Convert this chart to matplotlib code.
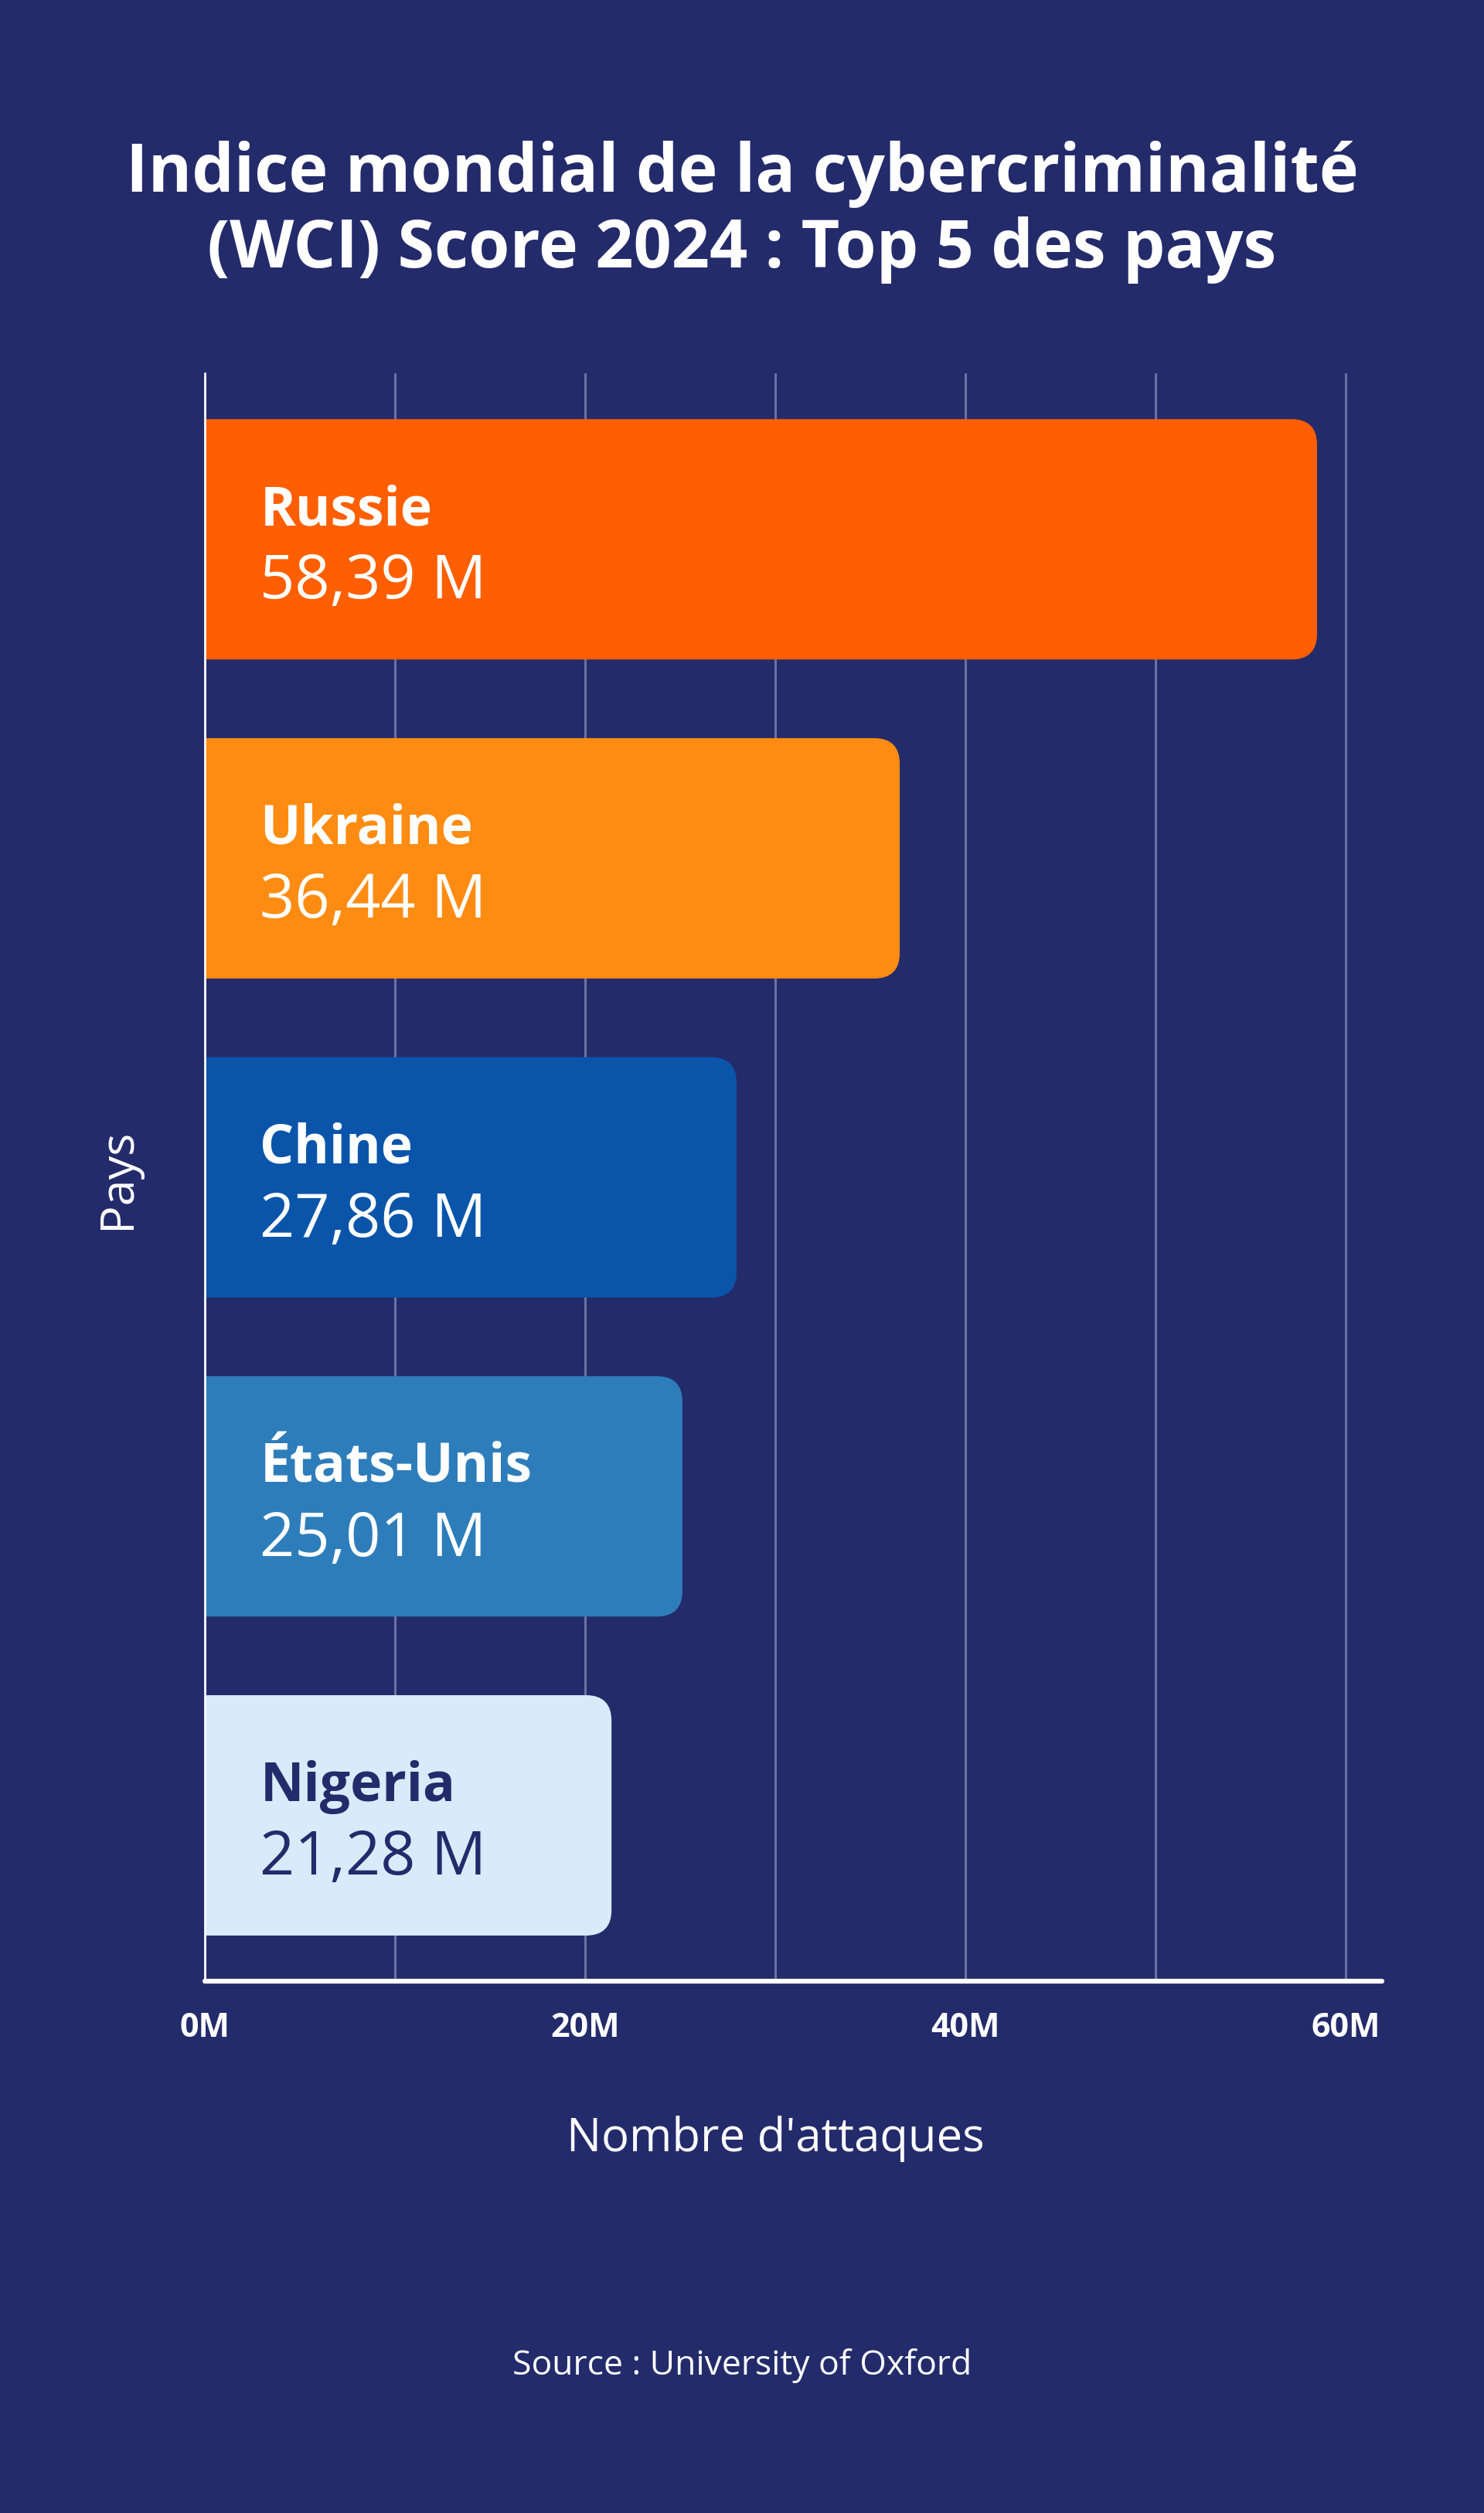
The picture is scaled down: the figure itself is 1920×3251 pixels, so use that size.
import matplotlib
matplotlib.use('Agg')
import matplotlib.pyplot as plt
from matplotlib.patches import FancyBboxPatch
from matplotlib.ticker import MultipleLocator, FuncFormatter

plt.rcParams['font.family'] = ['Open Sans', 'DejaVu Sans']

# données
pays = ['Russie', 'Ukraine', 'Chine', 'États-Unis', 'Nigeria']
attaques = [58.39, 36.44, 27.86, 25.01, 21.28]
etiquettes = ['58,39 M', '36,44 M', '27,86 M', '25,01 M', '21,28 M']
couleurs = ['#FF5F00', '#FF8C12', '#0A55AA', '#2E7DBB', '#D8EBFA']
couleurs_texte = ['white', 'white', 'white', 'white', '#242B6B']

fond = '#242B6B'
grille = '#6D72A3'

fig = plt.figure(figsize=(19.2, 32.51), dpi=100, facecolor=fond)
ax = fig.add_axes([0.138, 0.2116, 0.931 - 0.138, 0.8514 - 0.2116])
ax.set_facecolor(fond)

ypos = list(range(len(pays)))
bars = ax.barh(ypos, attaques, height=0.74, color=couleurs, zorder=3)

ax.set_xlim(0, 61.9)
ax.set_ylim(4.52, -0.52)

# remplacer les barres par des rectangles arrondis à droite
fig.canvas.draw()
bb = ax.get_window_extent()
x_par_px = 61.9 / bb.width
y_par_px = 5.04 / bb.height
aspect = y_par_px / x_par_px
rayon = 30 * x_par_px
for b, c in zip(bars, couleurs):
    x0, y0 = b.get_x(), b.get_y()
    w, h = b.get_width(), b.get_height()
    b.set_visible(False)
    p = FancyBboxPatch((x0 - 3, y0), w + 3, h,
                       boxstyle=f'round,pad=0,rounding_size={rayon}',
                       mutation_aspect=aspect, facecolor=c, edgecolor=c,
                       linewidth=4, zorder=3)
    ax.add_patch(p)

# libellés dans les barres
for i, (nom, lab, tc) in enumerate(zip(pays, etiquettes, couleurs_texte)):
    ax.text(2.9, i - 0.045, nom, color=tc, fontsize=50, fontweight='bold',
            va='baseline', ha='left', zorder=4)
    ax.text(2.9, i + 0.186, lab, color=tc, fontsize=57,
            va='baseline', ha='left', zorder=4)

# axes
ax.xaxis.set_major_locator(MultipleLocator(20))
ax.xaxis.set_minor_locator(MultipleLocator(10))
ax.xaxis.set_major_formatter(FuncFormatter(lambda v, p: f'{int(v)}M'))
ax.grid(axis='x', which='both', color=grille, linewidth=2.2, zorder=1)
ax.set_yticks([])
ax.tick_params(axis='x', which='both', length=0, pad=28, colors='white',
               labelsize=31)
for t in ax.get_xticklabels():
    t.set_fontweight('bold')

for s in ['top', 'right']:
    ax.spines[s].set_visible(False)
ax.spines['left'].set_color('white')
ax.spines['left'].set_linewidth(2)
ax.spines['left'].set_zorder(5)
ax.spines['bottom'].set_color('white')
ax.spines['bottom'].set_linewidth(4.5)
ax.spines['bottom'].set_capstyle('round')
ax.spines['bottom'].set_zorder(5)

ax.set_xlabel("Nombre d'attaques", color='white', fontsize=43, labelpad=66,
              x=30 / 61.9)
fig.text(0.079, 0.531, 'Pays', color='white', fontsize=44, rotation=90,
         ha='center', va='center')

# titre
fig.text(0.5, 0.9305, 'Indice mondial de la cybercriminalité', color='white',
         fontsize=62, fontweight='bold', ha='center', va='center')
fig.text(0.5, 0.9005, '(WCI) Score 2024 : Top 5 des pays', color='white',
         fontsize=62, fontweight='bold', ha='center', va='center')

fig.text(0.5, 0.0587, 'Source : University of Oxford', color='white',
         fontsize=32, ha='center', va='center')

fig.savefig('out.png', dpi=100, facecolor=fond)
